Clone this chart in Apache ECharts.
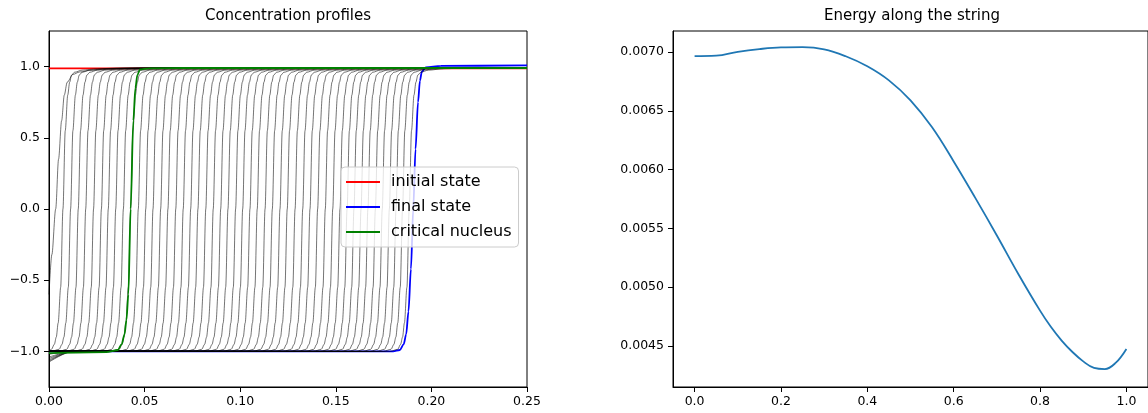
<!DOCTYPE html>
<html><head><meta charset="utf-8">
<script src="https://cdn.jsdelivr.net/npm/echarts@6/dist/echarts.min.js"></script>
<style>html,body{margin:0;padding:0;background:#fff}#c{width:1148px;height:413px}</style>
</head><body><div id="c"></div>
<script>
const FONT = 'DejaVu Sans';

// ---- Left panel data ----
// interface (front) position of each string image
const frontCenters = [0.0035, 0.0073, 0.0113, 0.0153, 0.0192, 0.0233, 0.0274, 0.0310, 0.0349, 0.0389,
  0.0427, 0.0467, 0.0506, 0.0544, 0.0584, 0.0622, 0.0663, 0.0702, 0.0741, 0.0779,
  0.0820, 0.0859, 0.0898, 0.0936, 0.0976, 0.1013, 0.1051, 0.1089, 0.1130, 0.1168,
  0.1208, 0.1246, 0.1287, 0.1327, 0.1365, 0.1405, 0.1445, 0.1484, 0.1522, 0.1559,
  0.1595, 0.1632, 0.1668, 0.1707, 0.1743, 0.1780, 0.1815, 0.1849, 0.1884];
// value at the wall x=0 of the first images (later images sit at -1.0)
const edgeY = [null, null, null, null, null, -1.075, -1.068, -1.06, -1.05, -1.04, -1.02];
// shape of one interface around its centre (offset, value)
const profileDx = [-0.010, -0.006, -0.0045, -0.0035, -0.0025, -0.0012, 0, 0.0012, 0.0025, 0.0035, 0.0045, 0.006, 0.010, 0.018, 0.030];
const profileY  = [-1.0, -0.985, -0.95, -0.90, -0.80, -0.55, 0, 0.55, 0.80, 0.89, 0.94, 0.96, 0.975, 0.985, 0.99];
// first image (touching the wall)
const firstX = [0, 0.0015, 0.0035, 0.0050, 0.0066, 0.0080, 0.0095, 0.0125, 0.016, 0.022, 0.030, 0.045, 0.25];
const firstY = [-0.6, -0.32, 0, 0.35, 0.62, 0.80, 0.89, 0.945, 0.962, 0.975, 0.982, 0.987, 0.99];
// coloured states
const initialX = [0, 0.25];
const initialY = [0.987, 0.987];
const finalX = [0, 0.180, 0.1835, 0.1855, 0.1868, 0.1880, 0.1893, 0.1905, 0.1917, 0.1930, 0.1940, 0.1950, 0.197, 0.205, 0.25];
const finalY = [-1.0, -1.0, -0.99, -0.95, -0.88, -0.72, -0.42, 0, 0.42, 0.75, 0.90, 0.965, 0.995, 1.005, 1.008];
const criticalX = [0, 0.030, 0.0360, 0.0380, 0.0395, 0.0405, 0.0415, 0.0427, 0.0441, 0.0452, 0.0462, 0.0476, 0.052, 0.07, 0.25];
const criticalY = [-1.012, -1.005, -0.99, -0.95, -0.88, -0.78, -0.6, 0, 0.62, 0.85, 0.94, 0.98, 0.988, 0.99, 0.99];
const leftYTicks = [-1.0, -0.5, 0.0, 0.5, 1.0];

// ---- Right panel data ----
const energyS = [0, 0.05, 0.10, 0.15, 0.20, 0.25, 0.30, 0.35, 0.40, 0.45, 0.50, 0.55, 0.60, 0.65, 0.70, 0.75, 0.80, 0.825, 0.85, 0.875, 0.90, 0.925, 0.95, 0.975, 1.0];
const energyE = [0.006966, 0.006970, 0.007003, 0.007026, 0.007040, 0.007042, 0.007024, 0.006965, 0.006880, 0.006760, 0.006590, 0.006360, 0.006070, 0.005760, 0.005440, 0.005110, 0.004800, 0.004662, 0.004545, 0.004448, 0.004368, 0.004312, 0.004302, 0.004355, 0.004474];
const rightXTicks = [0.0, 0.2, 0.4, 0.6, 0.8, 1.0];
const rightYTicks = [0.0045, 0.0050, 0.0055, 0.0060, 0.0065, 0.0070];

function zip(xs, ys) { return xs.map((x, i) => [x, ys[i]]); }

function imagePoints(i) {
  if (i === 0) return zip(firstX, firstY);
  const c = frontCenters[i];
  const e = edgeY[i] != null ? edgeY[i] : -1.0;
  const pts = [[0, e]];
  if (e < -1.0 && c - 0.010 > 0.0125) pts.push([0.0125, -1.0]);
  let last = pts[pts.length - 1][0];
  for (let k = 0; k < profileDx.length; k++) {
    const x = c + profileDx[k];
    if (x > last && x <= 0.25) { pts.push([x, profileY[k]]); last = x; }
  }
  if (last < 0.25) pts.push([0.25, profileY[profileY.length - 1]]);
  return pts;
}

const series = [];
series.push({name: 'initial state', type: 'line', xAxisIndex: 0, yAxisIndex: 0, data: zip(initialX, initialY),
  symbol: 'none', lineStyle: {color: '#ff0000', width: 1.8}, itemStyle: {color: '#ff0000'}, silent: true, z: 2});
series.push({name: 'final state', type: 'line', xAxisIndex: 0, yAxisIndex: 0, data: zip(finalX, finalY),
  symbol: 'none', smooth: 0.3, smoothMonotone: 'x', lineStyle: {color: '#0000ff', width: 1.8}, itemStyle: {color: '#0000ff'}, silent: true, z: 2});
for (let i = 0; i < frontCenters.length; i++) {
  series.push({type: 'line', xAxisIndex: 0, yAxisIndex: 0, data: imagePoints(i), symbol: 'none',
    smooth: 0.3, smoothMonotone: 'x', lineStyle: {color: '#000000', width: 0.55}, itemStyle: {color: '#000'}, silent: true, z: 2});
}
series.push({name: 'critical nucleus', type: 'line', xAxisIndex: 0, yAxisIndex: 0, data: zip(criticalX, criticalY),
  symbol: 'none', smooth: 0.3, smoothMonotone: 'x', lineStyle: {color: '#008000', width: 1.8}, itemStyle: {color: '#008000'}, silent: true, z: 2});
series.push({type: 'line', xAxisIndex: 1, yAxisIndex: 1, data: zip(energyS, energyE), symbol: 'none',
  smooth: 0.4, lineStyle: {color: '#1f77b4', width: 1.8}, itemStyle: {color: '#1f77b4'}, silent: true});

const labelStyle = {fontFamily: FONT, fontSize: 12.5, color: '#000'};
const axisLine = {show: true, onZero: false, lineStyle: {color: '#000', width: 1}};
const tick = {show: true, length: 5, lineStyle: {color: '#000', width: 1}};

const option = {
  animation: false,
  backgroundColor: '#fff',
  title: [
    {text: 'Concentration profiles', left: 288, top: 9, padding: 0, textAlign: 'center',
     textStyle: {fontFamily: FONT, fontSize: 15, fontWeight: 'normal', color: '#000'}},
    {text: 'Energy along the string', left: 912, top: 9, padding: 0, textAlign: 'center',
     textStyle: {fontFamily: FONT, fontSize: 15, fontWeight: 'normal', color: '#000'}}
  ],
  grid: [
    {left: 49, top: 31, width: 478, bottom: 26, show: true, borderColor: '#000', borderWidth: 1, containLabel: false},
    {left: 673, top: 31, right: -3, bottom: 26, show: true, borderColor: '#000', borderWidth: 1, containLabel: false}
  ],
  xAxis: [
    {gridIndex: 0, type: 'value', min: 0, max: 0.25, interval: 0.05, axisLine, axisTick: tick,
     axisLabel: Object.assign({margin: 8, formatter: v => v.toFixed(2)}, labelStyle), splitLine: {show: false}},
    {gridIndex: 1, type: 'value', min: -0.05, max: 1.05, axisLine,
     axisTick: Object.assign({customValues: rightXTicks}, tick),
     axisLabel: Object.assign({margin: 8, customValues: rightXTicks, formatter: v => v.toFixed(1)}, labelStyle),
     splitLine: {show: false}}
  ],
  yAxis: [
    {gridIndex: 0, type: 'value', min: -1.25, max: 1.25, axisLine,
     axisTick: Object.assign({customValues: leftYTicks}, tick),
     axisLabel: Object.assign({margin: 9, customValues: leftYTicks, formatter: v => v.toFixed(1).replace('-', '\u2212')}, labelStyle),
     splitLine: {show: false}},
    {gridIndex: 1, type: 'value', min: 0.00415, max: 0.00718, axisLine,
     axisTick: Object.assign({customValues: rightYTicks}, tick),
     axisLabel: Object.assign({margin: 9, customValues: rightYTicks, formatter: v => v.toFixed(4)}, labelStyle),
     splitLine: {show: false}}
  ],
  legend: {
    orient: 'vertical', left: 341, top: 167, icon: 'rect', itemWidth: 34, itemHeight: 2, itemGap: 9,
    padding: [7, 7, 7, 5], backgroundColor: 'rgba(255,255,255,0.8)', borderColor: '#cccccc', borderWidth: 1, borderRadius: 4,
    selectedMode: false,
    textStyle: {fontFamily: FONT, fontSize: 16, color: '#000', lineHeight: 16, padding: [0, 0, 0, 6]},
    data: ['initial state', 'final state', 'critical nucleus']
  },
  series
};

const chart = echarts.init(document.getElementById('c'), null, {renderer: 'canvas'});
chart.setOption(option);
</script></body></html>
